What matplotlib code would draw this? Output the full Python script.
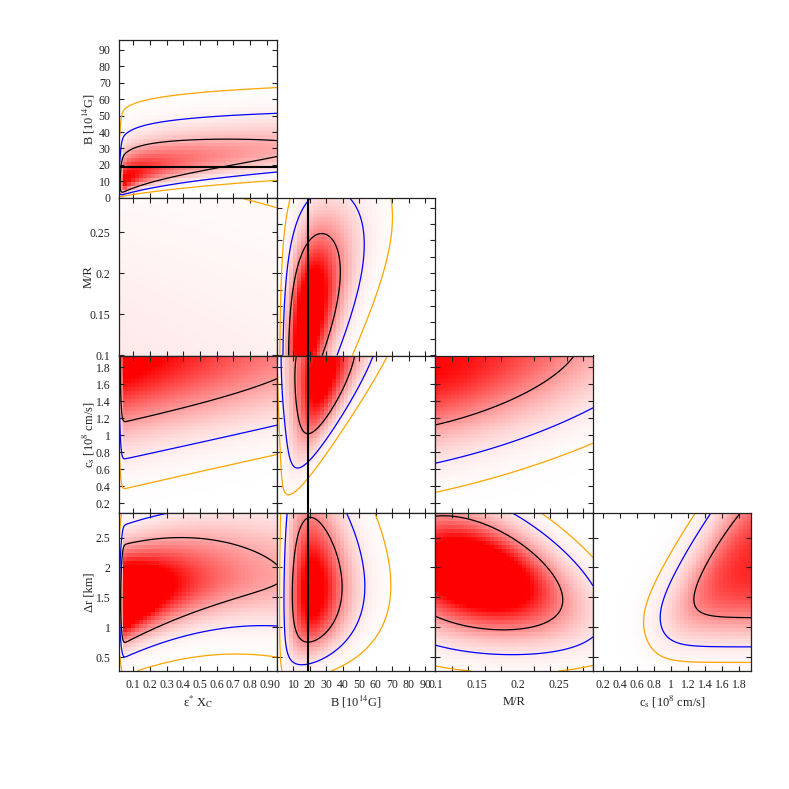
import numpy as np
import matplotlib
matplotlib.use('Agg')
import matplotlib.pyplot as plt
from matplotlib.colors import LinearSegmentedColormap

plt.rcParams['font.family'] = ['Liberation Serif', 'DejaVu Serif']
plt.rcParams['mathtext.fontset'] = 'stix'

# ---------------- axes of the five parameters ----------------
EPS_LIM = [0.014, 0.962]
B_LIM = [0.0, 96.0]
MR_LIM = [0.0995, 0.292]
CS_LIM = [0.085, 1.94]
DR_LIM = [0.266, 2.906]

EPS_TICKS = [0.1, 0.2, 0.3, 0.4, 0.5, 0.6, 0.7, 0.8, 0.9]
EPS_TICKLABELS = ['0.1', '0.2', '0.3', '0.4', '0.5', '0.6', '0.7', '0.8', '0.9']
B_TICKS = [0, 10, 20, 30, 40, 50, 60, 70, 80, 90]
B_TICKLABELS = ['0', '10', '20', '30', '40', '50', '60', '70', '80', '90']
MR_TICKS = [0.1, 0.15, 0.2, 0.25]
MR_TICKLABELS = ['0.1', '0.15', '0.2', '0.25']
MR_FINE_TICKS = [0.10, 0.12, 0.14, 0.16, 0.18, 0.20, 0.22, 0.24, 0.26, 0.28]
CS_TICKS = [0.2, 0.4, 0.6, 0.8, 1.0, 1.2, 1.4, 1.6, 1.8]
CS_TICKLABELS = ['0.2', '0.4', '0.6', '0.8', '1', '1.2', '1.4', '1.6', '1.8']
DR_TICKS = [0.5, 1.0, 1.5, 2.0, 2.5]
DR_TICKLABELS = ['0.5', '1', '1.5', '2', '2.5']

EPS_NAME = 'ε$^{*}$ X$_{\\rm C}$'
B_NAME = 'B [10$^{14}$G]'
MR_NAME = 'M/R'
CS_NAME = 'c$_{\\rm s}$ [10$^{8}$ cm/s]'
DR_NAME = 'Δr [km]'

B_TRUE = 19.0

COL_VARS = ['eps', 'B', 'MR', 'cs']
ROW_VARS = ['B', 'MR', 'cs', 'dr']

# ---------------- 2D posterior shapes, one entry per panel ----------------
# density = h(u) * profile((v - ridge(u)) / width(u)),  t = u - u0
PANEL_ROW = [0, 1, 1, 2, 2, 2, 3, 3, 3, 3]
PANEL_COL = [0, 0, 1, 0, 1, 2, 0, 1, 2, 3]
COND_AXIS = ['x', 'x', 'y', 'x', 'y', 'x', 'x', 'y', 'x', 'y']
PROFILE = ['gauss'] * 9 + ['step']
U_SCALE = ['log', 'lin', 'lin', 'lin', 'lin', 'lin', 'lin', 'sqrt', 'lin', 'lin']
V_SCALE = ['quarter', 'lin', 'sqrt', 'lin', 'lin', 'lin', 'lin', 'sqrt', 'lin', 'lin']
U_REF = [0.0, 0.5, 0.2, 0.5, 1.0, 0.2, 0.5, 1.285, 0.2, 2.0]
RIDGE = [[2.34, 0.17, 0.0], [0.0, 0.0, 0.0], [4.8, 8.5, 0.0], [2.0, 0.0, 0.0],
         [18.5, 14.5, -3.0], [2.0, 2.0, 0.0], [1.795, 0.468, -0.716],
         [4.67, 0.18, -1.45], [1.70, -4.0, -8.0], [1.39, 0.39, 0.0]]
WIDTH = [[0.19, -0.13], [0.1775, 0.0], [1.1, 1.5], [0.511, -0.183], [7.7, 0.58],
         [0.52, 0.0], [0.49, 0.3], [1.2, 0.0], [0.518, -1.3], [0.15, 0.0]]
SKEW = [0.0, 0.0, 0.0, 0.0, 0.0, 0.0, 0.15, 0.0, 0.0, 0.0]
LOG_HEIGHT = [[-1.109, -0.728, -0.1138], [-2.877, -0.5, 0.0], [-0.391, -11.76, -105.0],
              [-0.46, -0.977, -0.195], [-1.263, 2.962, -2.08], [-0.652, -5.30, -23.7],
              [-0.454, -2.0, 1.0], [-0.2945, -0.109, -5.435], [-0.198, -11.76, -117.6],
              [-0.51, 0.0, -0.25]]
U_EDGE = [None, None, None, None, None, None, None, None, None, [1.06, 0.25]]
EPS_EDGE = [[0.025, 0.005], None, None, [0.025, 0.005], None, None,
            [0.033, 0.005], None, None, None]
B_EDGE = [1.5, 1.0]
LEVELS = [[0.3, 0.0669, 0.0074], [0.3, 0.0669, 0.0129], [0.3, 0.0669, 0.00906],
          [0.3, 0.0669, 0.0129], [0.3, 0.0669, 0.0129], [0.3, 0.0669, 0.0129],
          [0.3, 0.0669, 0.0055], [0.3, 0.0669, 0.0074], [0.3, 0.0669, 0.0149],
          [0.3, 0.0669, 0.022]]
SHADE_GAIN = [1.0, 1.5, 1.6, 1.3, 1.5, 1.4, 1.15, 1.6, 1.5, 1.5]


def axis_info(var):
    return {
        'eps': (EPS_LIM, EPS_TICKS, EPS_TICKLABELS, EPS_NAME),
        'B': (B_LIM, B_TICKS, B_TICKLABELS, B_NAME),
        'MR': (MR_LIM, MR_TICKS, MR_TICKLABELS, MR_NAME),
        'cs': (CS_LIM, CS_TICKS, CS_TICKLABELS, CS_NAME),
        'dr': (DR_LIM, DR_TICKS, DR_TICKLABELS, DR_NAME),
    }[var]


def rescale(a, kind):
    if kind == 'log':
        return np.log(np.maximum(a, 1e-4))
    if kind == 'sqrt':
        return np.sqrt(np.maximum(a, 0.0))
    if kind == 'quarter':
        return np.maximum(a, 0.0) ** 0.25
    return a


def logistic(a, edge):
    return 1.0 / (1.0 + np.exp(-(a - edge[0]) / edge[1]))


def density(i, X, Y):
    if COND_AXIS[i] == 'x':
        u, v = rescale(X, U_SCALE[i]), rescale(Y, V_SCALE[i])
    else:
        u, v = rescale(Y, U_SCALE[i]), rescale(X, V_SCALE[i])
    t = u - U_REF[i]
    r = RIDGE[i]
    m = r[0] + r[1] * t + r[2] * t ** 2
    s = WIDTH[i][0] * np.exp(WIDTH[i][1] * t)
    s = np.where(v > m, s * (1 + SKEW[i]), s * (1 - SKEW[i]))
    c = LOG_HEIGHT[i]
    h = np.exp(c[0] + c[1] * t + c[2] * t ** 2)
    if PROFILE[i] == 'step':
        p = h * logistic(v, [m, s])
    else:
        p = h * np.exp(-0.5 * ((v - m) / s) ** 2)
    if U_EDGE[i] is not None:
        p = p * logistic(u, U_EDGE[i])
    if EPS_EDGE[i] is not None:
        p = p * logistic(X, EPS_EDGE[i])
    if COL_VARS[PANEL_COL[i]] == 'B':
        p = p * logistic(X, B_EDGE)
    if ROW_VARS[PANEL_ROW[i]] == 'B':
        p = p * logistic(Y, B_EDGE)
    return p


cmap = LinearSegmentedColormap.from_list('wr', ['#ffffff', '#ff0000'])
W = 789.0
COL_LEFT = [119, 277, 435, 593]
ROW_TOP = [40, 197.75, 355.5, 513.25]
PW, PH = 158, 157.75
FRAME = '#222222'

fig = plt.figure(figsize=(7.89, 7.89), dpi=100)

for i in range(len(PANEL_ROW)):
    row, col = PANEL_ROW[i], PANEL_COL[i]
    xvar, yvar = COL_VARS[col], ROW_VARS[row]
    xlim, xt, xtl, xname = axis_info(xvar)
    ylim, yt, ytl, yname = axis_info(yvar)
    ax = fig.add_axes([COL_LEFT[col] / W, 1 - (ROW_TOP[row] + PH) / W, PW / W, PH / W])

    xe = np.linspace(xlim[0], xlim[1], 41)
    ye = np.linspace(ylim[0], ylim[1], 41)
    XC, YC = np.meshgrid(0.5 * (xe[1:] + xe[:-1]), 0.5 * (ye[1:] + ye[:-1]))
    ax.pcolormesh(xe, ye, SHADE_GAIN[i] * density(i, XC, YC), cmap=cmap,
                  vmin=0, vmax=1, shading='flat', rasterized=True)

    XF, YF = np.meshgrid(np.linspace(xlim[0], xlim[1], 300),
                         np.linspace(ylim[0], ylim[1], 300))
    lev = LEVELS[i]
    ax.contour(XF, YF, density(i, XF, YF), levels=[lev[2], lev[1], lev[0]],
               colors=['#ffa500', '#0000ff', '#000000'], linewidths=0.9)

    if xvar == 'B':
        ax.axvline(B_TRUE, color='black', lw=1.5)
    if yvar == 'B':
        ax.axhline(B_TRUE, color='black', lw=1.5)

    ax.set_xlim(xlim)
    ax.set_ylim(ylim)

    if xvar == 'MR':
        ax.set_xticks(MR_TICKS, MR_TICKLABELS)
        ax.set_xticks(MR_FINE_TICKS, minor=True)
    else:
        ax.set_xticks(xt, xtl)
    if (row, col) == (1, 1):
        ax.set_yticks(MR_FINE_TICKS)
    else:
        ax.set_yticks(yt, ytl)

    ax.tick_params(which='both', direction='in', top=True, right=True,
                   color=FRAME, width=0.8, labelsize=8.5, labelcolor='#222222')
    ax.tick_params(which='major', length=3.8, pad=6)
    ax.tick_params(which='minor', length=3.8)
    if xvar == 'MR':
        ax.tick_params(axis='x', which='major', length=0, pad=6)
    if row != 3:
        ax.tick_params(axis='x', labelbottom=False)
    if col != 0:
        ax.tick_params(axis='y', labelleft=False)
    for sp in ax.spines.values():
        sp.set_color(FRAME)
        sp.set_linewidth(0.9)

    if row == 3:
        fig.text((COL_LEFT[col] + PW / 2) / W, 1 - 702 / W, xname, ha='center',
                 va='center', fontsize=9, color='#222222')
    if col == 0:
        fig.text(89 / W, 1 - (ROW_TOP[row] + PH / 2) / W, yname, ha='center',
                 va='center', rotation=90, fontsize=9, color='#222222')

fig.savefig('out.png', dpi=100)
